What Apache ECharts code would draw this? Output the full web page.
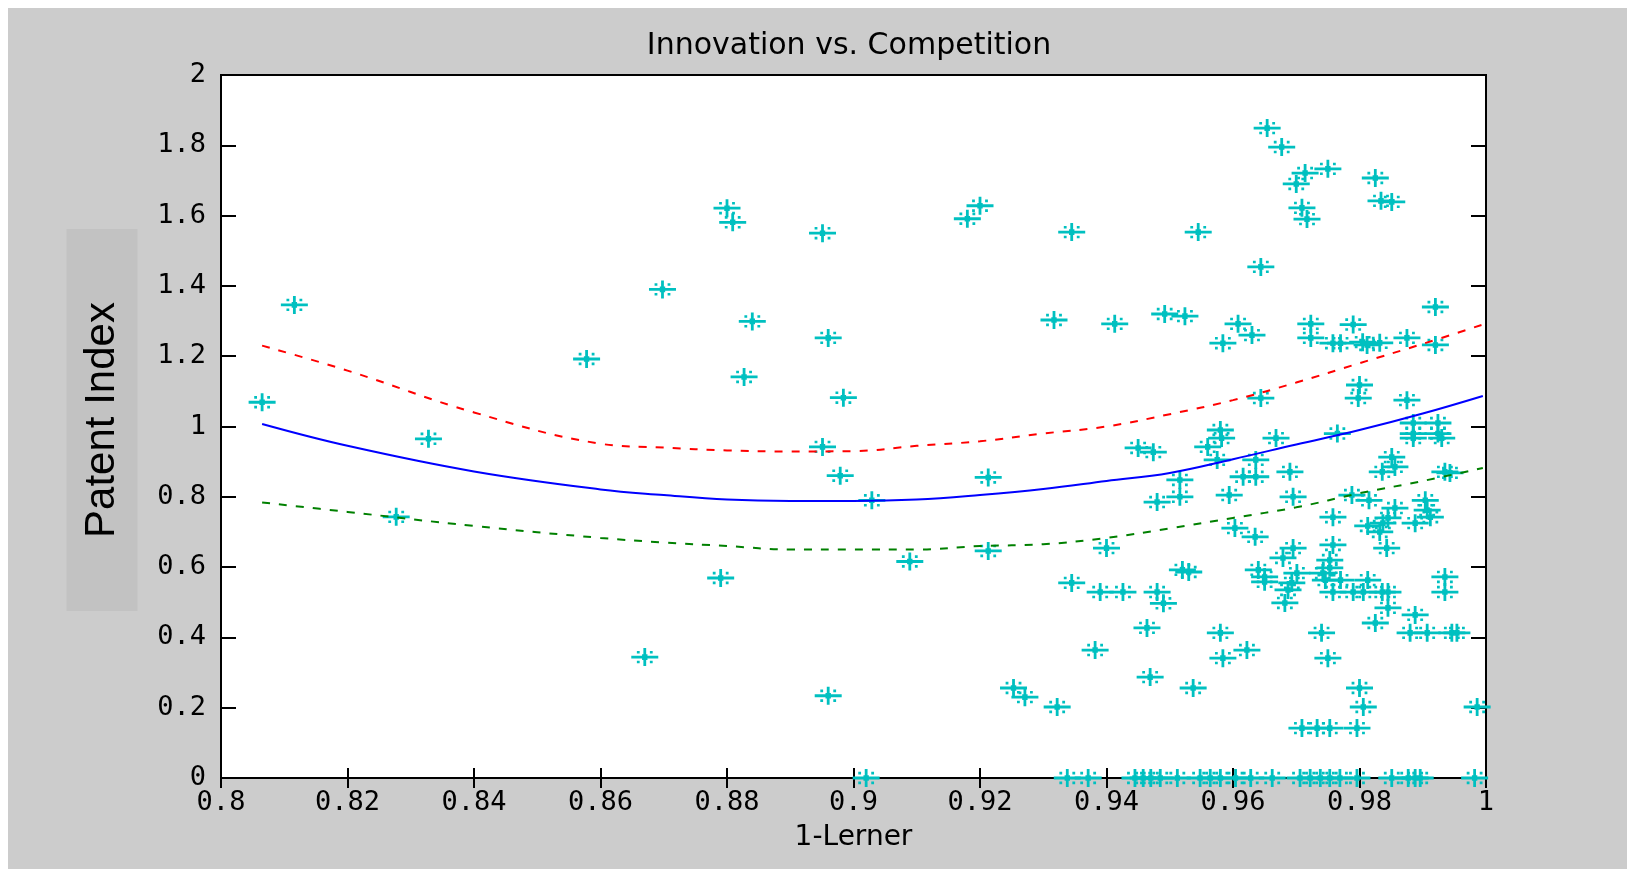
<!DOCTYPE html>
<html>
<head>
<meta charset="utf-8">
<script src="https://cdn.jsdelivr.net/npm/echarts/dist/echarts.min.js"></script>
<style>
html,body{margin:0;padding:0;background:#fff;}
#chart{position:absolute;left:0;top:0;width:1627px;height:869px;}
</style>
</head>
<body>
<div id="chart"></div>
<script>
// ---- data ----
const titleText = 'Innovation vs. Competition';
const xAxisName = '1-Lerner';
const yAxisName = 'Patent Index';

const scatterX = [
0.8065,0.8116,0.8277,0.8328,0.8578,0.867,0.8698,0.879,0.88,0.8809,
0.8827,0.884,0.8951,0.8951,0.896,0.896,0.8979,0.8984,0.902,0.9029,
0.9089,0.918,0.92,0.9213,0.9213,0.9253,0.9271,0.9317,0.9322,0.9338,
0.9345,0.9345,0.9371,0.9382,0.939,0.94,0.9413,0.9426,0.9445,0.945,
0.9458,0.9464,0.9469,0.947,0.9474,0.948,0.948,0.9485,0.949,0.9492,
0.9512,0.9516,0.9516,0.952,0.953,0.9524,0.9537,0.9545,0.9548,0.956,
0.9564,0.9575,0.958,0.9582,0.9584,0.958,0.9584,0.958,0.9594,0.9603,
0.9604,0.9608,0.9616,0.9622,0.963,0.9628,0.9635,0.9636,0.9636,0.964,
0.9644,0.9644,0.9654,0.965,0.965,0.9662,0.9668,0.9677,0.9679,0.9682,
0.9687,0.969,0.9693,0.9695,0.9695,0.97,0.9701,0.9706,0.9709,0.9709,
0.9714,0.9717,0.9722,0.9723,0.9723,0.9733,0.9738,0.974,0.9742,0.9746,
0.975,0.975,0.9753,0.9753,0.9753,0.9753,0.9758,0.9758,0.9758,0.9758,
0.9765,0.9769,0.977,0.977,0.9788,0.979,0.979,0.9796,0.9796,0.9798,
0.98,0.98,0.9805,0.9806,0.9806,0.9812,0.9813,0.9813,0.9815,0.9825,
0.9825,0.9832,0.9832,0.9834,0.9836,0.9836,0.9837,0.9843,0.9845,0.9845,
0.9845,0.9851,0.9851,0.9851,0.9856,0.9856,0.9875,0.9875,0.9877,0.988,
0.9885,0.9885,0.9885,0.9888,0.9888,0.9888,0.9896,0.9904,0.9907,0.9907,
0.9912,0.992,0.992,0.9924,0.9924,0.993,0.9935,0.9943,0.9935,0.9935,
0.9946,0.9954,0.9982,0.9986
];
const scatterY = [
1.069,1.346,0.743,0.965,1.192,0.344,1.39,0.569,1.621,1.581,
1.141,1.299,1.55,0.942,1.252,0.234,0.86,1.082,0,0.79,
0.616,1.591,1.628,0.855,0.646,0.256,0.23,1.303,0.202,0,
1.553,0.555,0,0.364,0.529,0.654,1.292,0.529,0,0.939,
0,0.427,0.287,0,0.927,0.785,0.529,0,0.497,1.32,
0,0.848,0.8,0.592,0.586,1.314,0.256,1.553,0,0.942,
0,0.905,0.99,0.967,1.237,0.413,0.341,0,0.805,0.711,
0,1.292,0.857,0.364,1.26,0,0.686,0.905,0.857,0.592,
1.081,1.454,1.849,0.572,0.558,0,0.967,1.795,0.626,0.498,
0.535,0.871,0.555,0.8,0.654,1.69,0.583,0,1.622,0.142,
1.721,1.59,0,1.292,1.252,0.142,0,0.413,0.583,0.563,
1.733,0.341,0.142,0.62,0.598,0,0.742,0.663,0.529,1.237,
0.98,0,0.563,1.237,0.805,1.29,0.529,0.142,0,1.081,
1.118,0.256,1.24,0.202,0.529,1.232,0.717,0.563,0.79,1.707,
0.441,1.238,0.7,1.642,0.871,0.529,0.725,0.654,0.74,0.529,
0.484,1.639,0.913,0,0.885,0.768,1.252,1.075,0,0.413,
1.01,0.98,0.967,0.725,0.464,0,0,0.79,0.762,0.413,
0.742,1.34,1.232,1.01,0.98,0.967,0.871,0.868,0.572,0.529,
0.413,0.413,0,0.202
];

// fitted curves
const fitX     = [0.8065,0.82,0.84,0.86,0.87,0.88,0.89,0.90,0.91,0.92,0.93,0.94,0.95,0.96,0.97,0.98,0.99,0.9995];
const fitMid   = [1.007,0.945,0.872,0.821,0.805,0.792,0.788,0.788,0.792,0.805,0.822,0.845,0.868,0.907,0.949,0.99,1.037,1.087];
const fitUpper = [1.23,1.159,1.04,0.951,0.94,0.932,0.929,0.93,0.945,0.958,0.98,1.0,1.035,1.075,1.125,1.18,1.235,1.29];
const fitLower = [0.784,0.757,0.717,0.683,0.67,0.66,0.65,0.65,0.65,0.66,0.665,0.683,0.71,0.74,0.77,0.81,0.845,0.882];

const xMin = 0.8, xMax = 1, xStep = 0.02;
const yMin = 0, yMax = 2, yStep = 0.2;

// ---- chart ----
const pair = (xs, ys) => xs.map((x, i) => [x, ys[i]]);
const starPath = 'path://M0 7.6L27 7.6L27 10.4L0 10.4Z' +
  'M12.1 0L14.9 0L14.9 18L12.1 18Z' +
  'M10.8 6.2L16.2 6.2L16.2 11.8L10.8 11.8Z' +
  'M5.6 2.8L8.4 2.8L8.4 5.4L5.6 5.4Z' +
  'M18.6 2.8L21.4 2.8L21.4 5.4L18.6 5.4Z' +
  'M5.6 12.6L8.4 12.6L8.4 15.2L5.6 15.2Z' +
  'M18.6 12.6L21.4 12.6L21.4 15.2L18.6 15.2Z';

const tickFont = {color:'#000', fontFamily:'DejaVu Sans Mono', fontSize:27};
const chart = echarts.init(document.getElementById('chart'), null, {renderer:'canvas'});
chart.setOption({
  animation:false,
  backgroundColor:'#ffffff',
  graphic:[
    {type:'rect', z:-100, silent:true, shape:{x:8, y:8, width:1619, height:861}, style:{fill:'#CCCCCC'}},
    {type:'text', z:10, silent:true, x:102, y:420, rotation:Math.PI/2,
     style:{text:yAxisName, fill:'#000', font:'42px "Liberation Sans", Arial, sans-serif',
       align:'center', verticalAlign:'middle', backgroundColor:'#C2C2C2', padding:[14,73,15,73]}}
  ],
  title:{
    text:titleText, left:849, top:31, textAlign:'center', padding:0,
    textStyle:{fontFamily:'DejaVu Sans', fontSize:30, fontWeight:'normal', color:'#000'}
  },
  grid:{left:221, top:75, right:141, bottom:91, show:true, backgroundColor:'#fff', borderColor:'#000', borderWidth:2},
  xAxis:[
    {type:'value', position:'bottom', min:xMin, max:xMax, interval:xStep,
     axisLine:{show:false}, splitLine:{show:false},
     axisTick:{inside:true, length:10, lineStyle:{color:'#000', width:2}},
     axisLabel:Object.assign({margin:11}, tickFont),
     name:xAxisName, nameLocation:'middle', nameGap:46,
     nameTextStyle:{fontFamily:'DejaVu Sans', fontSize:28, color:'#000'}},
    {type:'value', position:'top', min:xMin, max:xMax, interval:xStep,
     axisLine:{show:false}, splitLine:{show:false}, axisLabel:{show:false},
     axisTick:{inside:true, length:10, lineStyle:{color:'#000', width:2}}}
  ],
  yAxis:[
    {type:'value', position:'left', min:yMin, max:yMax, interval:yStep,
     axisLine:{show:false}, splitLine:{show:false},
     axisTick:{inside:true, length:15, lineStyle:{color:'#000', width:2}},
     axisLabel:Object.assign({margin:15}, tickFont)},
    {type:'value', position:'right', min:yMin, max:yMax, interval:yStep,
     axisLine:{show:false}, splitLine:{show:false}, axisLabel:{show:false},
     axisTick:{inside:true, length:15, lineStyle:{color:'#000', width:2}}}
  ],
  series:[
    {type:'scatter', xAxisIndex:0, yAxisIndex:0, data:pair(scatterX, scatterY),
     symbol:starPath, symbolSize:[27,18], clip:false,
     itemStyle:{color:'#00C0C0', opacity:1}},
    {type:'line', data:pair(fitX, fitUpper), showSymbol:false, smooth:0.4,
     lineStyle:{color:'#FF0000', width:2, type:[8,9]}},
    {type:'line', data:pair(fitX, fitMid), showSymbol:false, smooth:0.4,
     lineStyle:{color:'#0000FF', width:2}},
    {type:'line', data:pair(fitX, fitLower), showSymbol:false, smooth:0.4,
     lineStyle:{color:'#008000', width:2, type:[8,9]}}
  ]
});
</script>
</body>
</html>
